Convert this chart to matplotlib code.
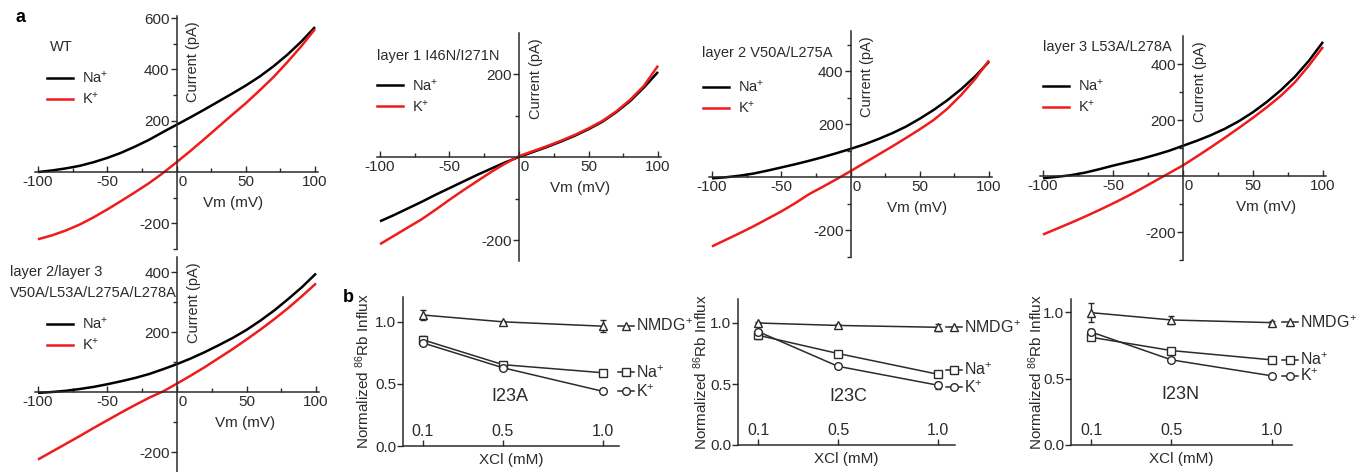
import numpy as np
import matplotlib.pyplot as plt
from matplotlib.lines import Line2D
from matplotlib.legend import Legend

plt.rcParams['font.family'] = ['Liberation Sans', 'DejaVu Sans']
plt.rcParams['mathtext.fontset'] = 'custom'
plt.rcParams['mathtext.rm'] = 'Liberation Sans'
plt.rcParams['mathtext.it'] = 'Liberation Sans:italic'
plt.rcParams['mathtext.bf'] = 'Liberation Sans:bold'

W, H = 1368, 472
INK = '#2b2b2b'
RED = '#ee1c1c'

# ------------------------------------------------------------
# Data: I-V curves (panel a), every 10 mV
# ------------------------------------------------------------
vm = [-100, -90, -80, -70, -60, -50, -40, -30, -20, -10, 0,
      10, 20, 30, 40, 50, 60, 70, 80, 90, 100]

wt_na = [0, 6, 14, 24, 38, 55, 75, 99, 125, 155, 184,
         213, 243, 274, 305, 337, 372, 412, 457, 508, 565]
wt_k = [-262, -247, -228, -205, -177, -146, -113, -79, -44, -5, 38,
        82, 128, 175, 222, 268, 318, 370, 428, 490, 557]

l1_na = [-155, -140, -124, -108, -91, -75, -59, -43, -28, -13, 0,
         12, 24, 37, 51, 67, 85, 108, 135, 168, 205]
l1_k = [-210, -190, -170, -150, -127, -103, -80, -58, -36, -16, 2,
        14, 26, 39, 53, 69, 87, 110, 138, 172, 220]

l2_na = [-5, -1, 5, 13, 24, 36, 48, 61, 75, 90, 106,
         123, 143, 165, 190, 220, 253, 290, 332, 380, 435]
l2_k = [-262, -237, -212, -186, -158, -130, -99, -65, -37, -8, 22,
        53, 84, 115, 147, 180, 215, 258, 310, 370, 440]

l3_na = [-8, -3, 3, 12, 24, 37, 49, 61, 75, 90, 108,
         126, 146, 169, 196, 228, 265, 307, 355, 412, 479]
l3_k = [-209, -188, -167, -145, -122, -98, -73, -46, -18, 10, 38,
        70, 103, 137, 172, 208, 246, 287, 335, 395, 461]

l23_na = [-3, 0, 4, 10, 17, 26, 36, 47, 60, 76, 93,
          112, 133, 156, 180, 207, 238, 272, 310, 350, 395]
l23_k = [-225, -199, -173, -147, -120, -94, -68, -43, -19, 2, 28,
         55, 83, 113, 143, 175, 208, 243, 280, 320, 362]

vm_ticks = [-100, -50, 0, 50, 100]
vm_tick_labels = ['-100', '-50', '   0', '50', '100']
vm_minor = [-75, -25, 25, 75]

# ------------------------------------------------------------
# Data: 86Rb influx (panel b)
# ------------------------------------------------------------
xcl = [0.1, 0.5, 1.0]

i23a_nmdg = [1.055, 1.00, 0.965]
i23a_na = [0.855, 0.655, 0.59]
i23a_k = [0.83, 0.63, 0.44]
i23a_nmdg_err = [0.04, 0.01, 0.05]
i23a_na_err = [0.03, 0.01, 0.01]
i23a_k_err = [0.02, 0.02, 0.01]

i23c_nmdg = [1.00, 0.98, 0.965]
i23c_na = [0.90, 0.75, 0.58]
i23c_k = [0.93, 0.645, 0.49]
i23c_nmdg_err = [0.01, 0.01, 0.03]
i23c_na_err = [0.03, 0.01, 0.02]
i23c_k_err = [0.02, 0.01, 0.03]

i23n_nmdg = [0.995, 0.94, 0.92]
i23n_na = [0.81, 0.71, 0.64]
i23n_k = [0.85, 0.64, 0.52]
i23n_nmdg_err = [0.07, 0.03, 0.01]
i23n_na_err = [0.02, 0.01, 0.01]
i23n_k_err = [0.02, 0.01, 0.01]

xcl_ticks = [0.1, 0.5, 1.0]
flux_ticks = [0.0, 0.5, 1.0]

fig = plt.figure(figsize=(W / 100, H / 100), dpi=100)


def add_ax(x0, y0, x1, y1):
    # pixel box (top-left origin) -> figure fraction
    return fig.add_axes([x0 / W, 1 - y1 / H, (x1 - x0) / W, (y1 - y0) / H])


def fig_text(x, y, s, **kw):
    return fig.text(x / W, 1 - y / H, s, **kw)


def iv_panel(box, ylim, yticks, yminor, na, k, title_lines, title_px, leg_px, xlab_mv):
    ax = add_ax(*box)
    ax.patch.set_alpha(0)
    ax.plot(vm, na, color='black', lw=1.8, solid_capstyle='butt')
    ax.plot(vm, k, color=RED, lw=1.8, solid_capstyle='butt')
    ax.set_xlim(-102, 102)
    ax.set_ylim(*ylim)

    for s in ['top', 'right']:
        ax.spines[s].set_visible(False)
    ax.spines['left'].set_position(('data', 0))
    ax.spines['bottom'].set_position(('data', 0))
    for s in ['left', 'bottom']:
        ax.spines[s].set_color(INK)
        ax.spines[s].set_linewidth(1.1)

    ax.set_xticks(vm_ticks)
    ax.set_xticklabels(vm_tick_labels)
    ax.set_xticks(vm_minor, minor=True)
    ax.set_yticks(yticks)
    ax.set_yticklabels([str(t) for t in yticks])
    ax.set_yticks(yminor, minor=True)
    ax.tick_params(axis='x', which='major', direction='in', length=4, width=1,
                   color=INK, labelcolor=INK, labelsize=11, pad=2)
    ax.tick_params(axis='x', which='minor', direction='in', length=3, width=1, color=INK)
    ax.tick_params(axis='y', which='major', direction='out', length=4, width=1,
                   color=INK, labelcolor=INK, labelsize=11, pad=1)
    ax.tick_params(axis='y', which='minor', direction='out', length=3, width=1, color=INK)

    ax.annotate('Vm (mV)', xy=(xlab_mv, 0), xycoords='data', xytext=(0, -22),
                textcoords='offset points', ha='center', va='center',
                fontsize=11, color=INK)
    ax.annotate('Current (pA)', xy=(0, 1), xycoords=('data', 'axes fraction'),
                xytext=(12, -4), textcoords='offset points', rotation=90,
                ha='center', va='top', fontsize=10.5, color=INK)

    for i, line in enumerate(title_lines):
        fig_text(title_px[0], title_px[1] + 21 * i, line, fontsize=10.5, color=INK,
                 ha='left', va='center')

    handles = [Line2D([], [], color='black', lw=1.8), Line2D([], [], color=RED, lw=1.8)]
    leg = Legend(ax, handles, [r'Na$^{+}$', r'K$^{+}$'], loc='center left',
                 bbox_to_anchor=(leg_px[0] / W, 1 - leg_px[1] / H),
                 bbox_transform=fig.transFigure, frameon=False, fontsize=10.5,
                 handlelength=1.8, handletextpad=0.6, labelspacing=0.35,
                 borderpad=0, borderaxespad=0, labelcolor=INK)
    ax.add_artist(leg)
    return ax


def flux_panel(box, ylim, xlim, series, name, name_xy, key_x, key_y, ylab_px):
    ax = add_ax(*box)
    ax.patch.set_alpha(0)
    markers = ['^', 's', 'o']
    labels = [r'NMDG$^{+}$', r'Na$^{+}$', r'K$^{+}$']
    for (vals, errs), m, lab, ky in zip(series, markers, labels, key_y):
        ax.errorbar(xcl, vals, yerr=errs, color=INK, lw=1.1, marker=m, ms=5.5,
                    mfc='white', mec=INK, mew=1, capsize=2.5, elinewidth=1,
                    capthick=1, clip_on=False)
        h = Line2D([], [], color=INK, lw=1.1, marker=m, ms=5.5, mfc='white',
                   mec=INK, mew=1)
        leg = Legend(ax, [h], [lab], loc='center left',
                     bbox_to_anchor=(key_x, vals[-1] + ky),
                     bbox_transform=ax.transData, frameon=False, fontsize=11.5,
                     handlelength=1.0, handletextpad=0.15, borderpad=0,
                     borderaxespad=0, labelcolor=INK, numpoints=1)
        ax.add_artist(leg)

    ax.set_xlim(*xlim)
    ax.set_ylim(*ylim)
    for s in ['top', 'right']:
        ax.spines[s].set_visible(False)
    for s in ['left', 'bottom']:
        ax.spines[s].set_color(INK)
        ax.spines[s].set_linewidth(1.1)
    ax.set_xticks(xcl_ticks)
    ax.set_xticklabels([f'{t:.1f}' for t in xcl_ticks])
    ax.set_yticks(flux_ticks)
    ax.set_yticklabels([f'{t:.1f}' for t in flux_ticks])
    ax.tick_params(axis='x', direction='in', length=4, width=1, color=INK,
                   labelcolor=INK, labelsize=11.5, pad=-16)
    ax.tick_params(axis='y', direction='out', length=4, width=1, color=INK,
                   labelcolor=INK, labelsize=11, pad=1)
    ax.set_xlabel('XCl (mM)', fontsize=11, color=INK, labelpad=5)
    ax.set_ylabel(r'Normalized $^{86}$Rb Influx', fontsize=11, color=INK)
    # label anchor is the right edge of the rotated text
    ax.yaxis.set_label_coords(-ylab_px / (box[2] - box[0]), 0.5)
    ax.text(name_xy[0], name_xy[1], name, fontsize=13, color=INK,
            ha='center', va='center')
    return ax


# ---------------- panel a ----------------
iv_panel((35.2, 15.5, 317.8, 249), (-300, 610), [-200, 200, 400, 600],
         [-300, -100, 100, 300, 500], wt_na, wt_k,
         ['WT'], (50, 47), (47, 88.5), 41)
iv_panel((377.2, 32.5, 660.8, 260.75), (-250, 300), [-200, 200],
         [-100, 100], l1_na, l1_k,
         ['layer 1 I46N/I271N'], (377, 56), (377, 96), 44)
iv_panel((709.2, 31.25, 991.8, 256.5), (-300, 550), [-200, 200, 400],
         [-300, -100, 100, 300, 500], l2_na, l2_k,
         ['layer 2 V50A/L275A'], (702, 53), (703, 97.5), 48)
iv_panel((1040.2, 36, 1325.8, 260), (-300, 500), [-200, 200, 400],
         [-300, -100, 100, 300], l3_na, l3_k,
         ['layer 3 L53A/L278A'], (1043, 47), (1043, 96.5), 59)
iv_panel((35.2, 257, 318.8, 471.5), (-265, 450), [-200, 200, 400],
         [-100, 100, 300], l23_na, l23_k,
         ['layer 2/layer 3', 'V50A/L53A/L275A/L278A'], (10, 272), (47, 334.5), 49)

# ---------------- panel b ----------------
flux_panel((403, 297, 619, 446), (0, 1.2), (0, 1.08),
           [(i23a_nmdg, i23a_nmdg_err), (i23a_na, i23a_na_err), (i23a_k, i23a_k_err)],
           'I23A', (0.535, 0.40), 1.075, [0, 0, 0], 31)
flux_panel((738, 298.6, 955, 445), (0, 1.2), (0, 1.085),
           [(i23c_nmdg, i23c_nmdg_err), (i23c_na, i23c_na_err), (i23c_k, i23c_k_err)],
           'I23C', (0.55, 0.40), 1.04, [0, 0.035, -0.02], 28)
flux_panel((1071, 298.7, 1292, 445), (0, 1.1), (0, 1.1),
           [(i23n_nmdg, i23n_nmdg_err), (i23n_na, i23n_na_err), (i23n_k, i23n_k_err)],
           'I23N', (0.545, 0.376), 1.05, [0, 0, 0], 26)

fig_text(343, 297, 'b', fontsize=13, fontweight='bold', color='black', va='center')
fig_text(15, 17, 'a', fontsize=13, fontweight='bold', color='black', va='center')

fig.savefig('out.png', dpi=100)
